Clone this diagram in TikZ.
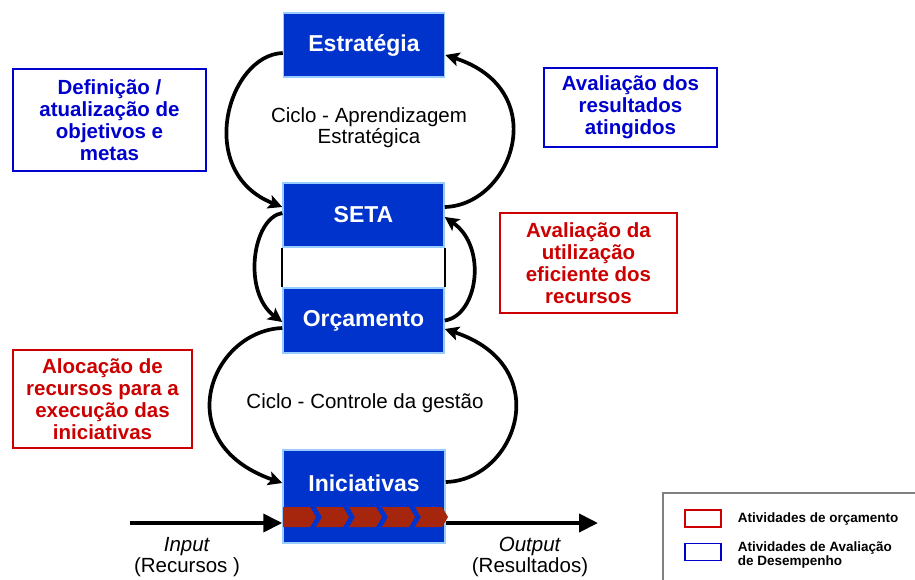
\documentclass[tikz,border=0pt]{standalone}
\usepackage{fontspec}
\setmainfont{Liberation Sans}
\usetikzlibrary{arrows.meta,positioning}
\definecolor{boxblue}{RGB}{0,51,204}
\definecolor{edgeblue}{RGB}{153,204,255}
\definecolor{evblue}{RGB}{0,0,204}
\definecolor{bgred}{RGB}{204,0,0}
\definecolor{chevred}{RGB}{165,38,12}
\definecolor{lggray}{RGB}{128,128,128}

\begin{document}
\begin{tikzpicture}[x=1pt, y=-1pt,
  boxtxt/.style={font=\fontsize{23}{27}\selectfont\bfseries, text=white},
  mainbox/.style={rectangle, draw=edgeblue, line width=1.5pt, fill=boxblue,
                  minimum width=161pt, minimum height=64pt, inner sep=0pt, boxtxt},
  notebox/.style={rectangle, line width=1.3pt, inner sep=0pt, align=center,
                  font=\fontsize{20.5}{22}\selectfont\bfseries},
  evalbox/.style={notebox, draw=evblue, text=evblue},
  budgbox/.style={notebox, draw=bgred, text=bgred},
  cyc/.style={-{Stealth[length=14pt,width=14pt,inset=3pt]}, line width=3.7pt},
  flow/.style={-{Triangle[length=19pt,width=18pt]}, line width=4pt},
  lbl/.style={align=center, font=\fontsize{20.5}{21}\selectfont},
  lgd/.style={inner sep=0pt, align=left, font=\fontsize{13.5}{14}\selectfont\bfseries},
  swatch/.style={rectangle, line width=1.3pt, minimum width=36pt, minimum height=17pt, inner sep=0pt},
]
  \useasboundingbox (0,0) rectangle (915,579);
  \node[mainbox](estr) at (364,45) {Estratégia};
  \node[mainbox](seta) at (363.5,215) {SETA};
  \node[mainbox, minimum height=65pt](orc) at (363.5,320.5) {Orçamento};
  \node[mainbox, minimum width=162pt, minimum height=93pt,
        label={[boxtxt, yshift=13.5pt]center:Iniciativas}](inic) at (364,496.5) {};
  \draw[line width=2pt] (seta.south west) -- (orc.north west);
  \draw[line width=2pt] (seta.south east) -- (orc.north east);
  % the two cycles
  \draw[cyc] ([yshift=-8pt]estr.west) .. controls +(-55,2) and +(-88,-35) .. ([yshift=8pt]seta.west);
  \draw[cyc] ([yshift=8pt]seta.east) .. controls +(68,-2) and +(108,35) .. ([yshift=-10pt]estr.east);
  \draw[cyc] ([yshift=2pt]seta.west) .. controls +(-30,5) and +(-40,-30) .. ([yshift=-1.5pt]orc.west);
  \draw[cyc] (orc.east) .. controls +(33,-5) and +(43,30) .. ([yshift=-2pt]seta.east);
  \draw[cyc] ([yshift=-7.5pt]orc.west) .. controls +(-72,3) and +(-115,-40) .. ([yshift=13.5pt]inic.west);
  \draw[cyc] ([yshift=14.5pt]inic.east) .. controls +(71,-2) and +(112,37) .. ([yshift=-8.5pt]orc.east);
  \node[lbl](cycA) at (369,128) {Ciclo - Aprendizagem\\Estratégica};
  \node[lbl](cycB) at (365,403) {Ciclo - Controle da gestão};
  % input / output
  \coordinate (inpt) at (130,523); \coordinate (outp) at (598,523);
  \draw[flow] (inpt) -- (inpt -| inic.west);
  \draw[flow] (inic.east |- outp) -- (outp);
  \foreach \i in {0,...,4}{
    \pgfmathsetmacro\nd{\i==0 ? 0 : 6}
    \fill[chevred] ({283+33*\i},507) -- ++(27,0) -- ++(6,10) -- ++(-6,10) -- ++(-27,0) -- ++(\nd,-10) -- cycle;
  }
  \node[lbl](inlbl) at (187,557) {\textit{Input}\\(Recursos )};
  \node[lbl](outlbl) at (530,557) {\textit{Output}\\(Resultados)};
  % activity boxes
  \node[evalbox, minimum width=193pt, minimum height=102pt](defn) at (109.5,120) {Definição /\\atualização de\\objetivos e\\metas};
  \node[evalbox, minimum width=173pt, minimum height=79pt](avres) at (630.5,107.5) {Avaliação dos\\resultados\\atingidos};
  \node[budgbox, minimum width=177pt, minimum height=100pt](avuti) at (588.5,263) {Avaliação da\\utilização\\eficiente dos\\recursos};
  \node[budgbox, minimum width=179pt, minimum height=98pt](aloc) at (102.5,399) {Alocação de\\recursos para a\\execução das\\iniciativas};
  % legend
  \draw[lggray, line width=2pt] (663,493) rectangle (940,600);
  \node[swatch, draw=bgred](lgred) at (703,518.5) {};
  \node[swatch, draw=evblue](lgblue) at (703,552) {};
  \node[lgd, right=16pt of lgred](lgtxtA) {Atividades de orçamento};
  \node[lgd, right=16pt of lgblue, yshift=-3pt](lgtxtB) {Atividades de Avaliação\\de Desempenho};
\end{tikzpicture}
\end{document}
